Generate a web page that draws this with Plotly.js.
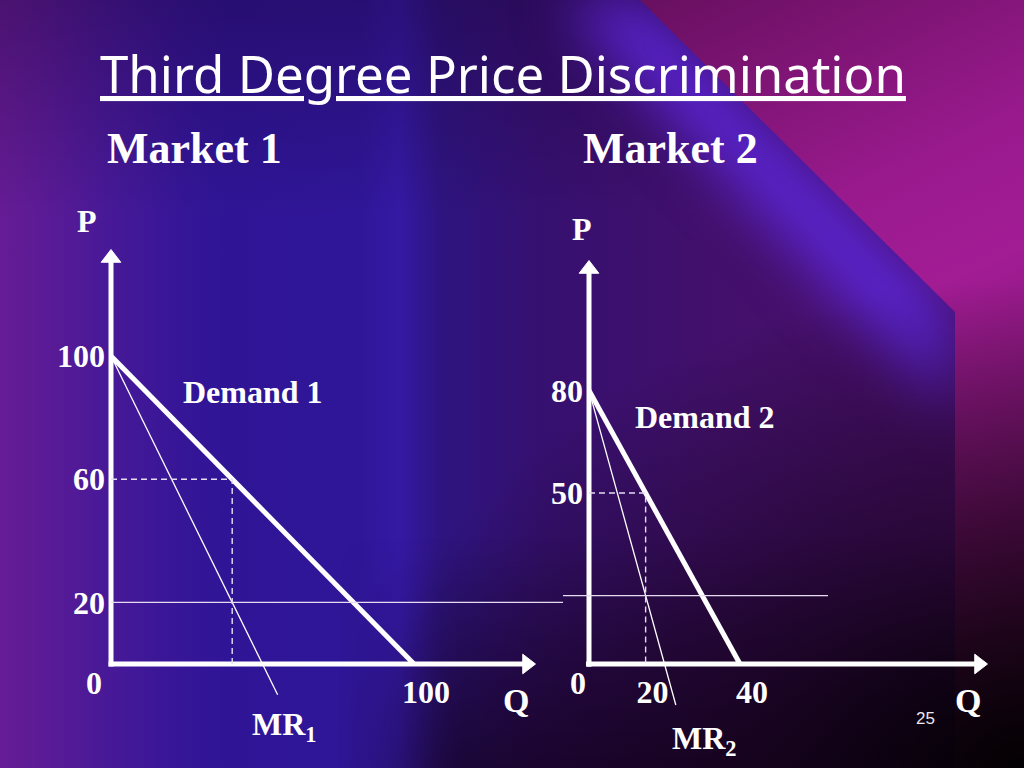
<!DOCTYPE html>
<html>
<head>
<meta charset="utf-8">
<script src="https://cdn.plot.ly/plotly-3.0.1.min.js"></script>
<style>
  html, body { margin: 0; padding: 0; width: 1024px; height: 768px; overflow: hidden; }
  #slide { position: relative; width: 1024px; height: 768px; overflow: hidden;
    background: linear-gradient(to right, #5e1a94 0%, #3f1898 10%, #2f1596 22%, #2f1698 35%, #3419a4 39%, #2e1480 43%, #361070 53%, #43106c 70%, #4c0f66 100%); }
  .layer { position: absolute; left: 0; top: 0; width: 1024px; height: 768px; }
  #glowWrap { filter: blur(28px); }
  #glow { background: #5a24d0; clip-path: polygon(560px 0, 650px 0, 955px 310px, 955px 420px); }
  #magenta { background: linear-gradient(155deg, #3a0636 0%, #6a1062 25%, #9a1a8e 48%, #a21c94 58%, #7a1470 75%, #3a0a30 100%);
    clip-path: polygon(640px 0, 1024px 0, 1024px 768px, 955px 768px, 955px 312px); }
  #top { background: linear-gradient(to bottom, rgba(25,0,45,0.35) 0%, rgba(0,0,0,0) 28%); }
  #bottom { background: linear-gradient(to bottom, rgba(0,0,0,0) 70%, rgba(18,0,22,0.6) 100%);
    -webkit-mask-image: linear-gradient(to right, transparent 33%, black 45%);
    mask-image: linear-gradient(to right, transparent 33%, black 45%); }
  #shade { background: radial-gradient(ellipse at 100% 100%, rgba(0,0,0,0.95) 0%, rgba(10,0,10,0.6) 18%, rgba(0,0,0,0) 45%); }
  #leftglow { background: linear-gradient(to right, rgba(110,30,150,0.45) 0%, rgba(0,0,0,0) 18%); }
  #plot { position: absolute; left: 0; top: 0; }
</style>
</head>
<body>
<div id="slide">
  <div class="layer" id="leftglow"></div>
  <div class="layer" id="top"></div>
  <div class="layer" id="glowWrap"><div class="layer" id="glow"></div></div>
  <div class="layer" id="bottom"></div>
  <div class="layer" id="magenta"></div>
  <div class="layer" id="shade"></div>
  <div id="plot"></div>
</div>
<script>
// Market 1
var demand1Q = [0, 100];
var demand1P = [100, 0];
var mr1Q = [0, 55];
var mr1P = [100, -10];
var opt1Q = [0, 40, 40];
var opt1P = [60, 60, 0];
var m1PriceTicks = [100, 60, 20];
var m1QtyTicks = [100];

// Market 2
var demand2Q = [0, 40];
var demand2P = [80, 0];
var mr2Q = [0, 23];
var mr2P = [80, -12];
var opt2Q = [0, 15, 15];
var opt2P = [50, 50, 0];
var m2PriceTicks = [80, 50];
var m2QtyTicks = [20, 40];

// common marginal cost
var mcPrice = 20;

var W = 1024, H = 768;
function px(x) { return x / W; }
function py(y) { return 1 - y / H; }

var serif = 'Liberation Serif, Times New Roman, serif';
var white = '#ffffff';
var thin = '#e6dcf2';
var nb = '\u00A0';

// scales (px per unit) chosen to sit the curves where the slide draws them
var k1x = 3.03, k1y = 3.08, k2x = 3.775, k2y = 3.42;
var pad = 3; // a little room left of Q = 0 so the thick axis is not clipped

function line(xs, ys, xa, ya, color, width, dash) {
  return { x: xs, y: ys, xaxis: xa, yaxis: ya, mode: 'lines', hoverinfo: 'skip',
    line: { color: color, width: width, dash: dash || 'solid' } };
}
// axis with arrowhead: the head sits a few px inside the tip
function axisTraces(xa, ya, topP, endQ) {
  return [
    line([0, 0], [-0.8, topP], xa, ya, white, 5),
    line([-0.8, endQ], [0, 0], xa, ya, white, 5),
    { x: [0, endQ], y: [topP, 0], xaxis: xa, yaxis: ya, mode: 'markers', cliponaxis: false,
      hoverinfo: 'skip',
      marker: { symbol: ['triangle-up', 'triangle-right'], size: 17, color: white,
        line: { color: white, width: 1 } } }
  ];
}

var traces = []
  .concat(axisTraces('x', 'y', (664 - 258) / k1y, (527 - 111) / k1x))
  .concat(axisTraces('x2', 'y2', (664 - 269) / k2y, (979 - 589) / k2x))
  .concat([
    line(demand1Q, demand1P, 'x', 'y', white, 5),
    line(mr1Q, mr1P, 'x', 'y', white, 1.3),
    line(opt1Q, opt1P, 'x', 'y', thin, 1.4, '6px,4px'),
    line(demand2Q, demand2P, 'x2', 'y2', white, 5),
    line(mr2Q, mr2P, 'x2', 'y2', white, 1.3),
    line(opt2Q, opt2P, 'x2', 'y2', thin, 1.4, '6px,4px')
  ]);

var tickFont = { family: serif, size: 32, color: white, weight: 'bold' };

function xAxis(domain, range, ticks, text, shift) {
  return {
    domain: domain, range: range, anchor: 'free', position: py(664),
    showgrid: false, zeroline: false, showline: false, ticks: '',
    tickvals: ticks, ticktext: text, tickfont: tickFont,
    ticklabelstandoff: 6, ticklabelshift: shift, fixedrange: true
  };
}
function yAxis(xpos, range, ticks) {
  return {
    domain: [py(740), py(240)], range: range, anchor: 'free', position: px(xpos),
    showgrid: false, zeroline: false, showline: false, ticks: '',
    tickvals: ticks, ticktext: ticks.map(String), tickfont: tickFont,
    ticklabelstandoff: 6, fixedrange: true
  };
}

function label(text, x, y, size) {
  return {
    xref: 'paper', yref: 'paper', x: px(x), y: py(y), text: text, showarrow: false,
    xanchor: 'center', yanchor: 'middle',
    font: { family: serif, size: size, color: white, weight: 'bold' }
  };
}

var annotations = [
  {
    xref: 'paper', yref: 'paper', x: px(503), y: py(73), showarrow: false,
    xanchor: 'center', yanchor: 'middle', text: 'Third Degree Price Discrimination',
    font: { family: 'Noto Sans, Open Sans, sans-serif', size: 51, color: white, lineposition: 'under' }
  },
  label('Market 1', 194, 148, 44),
  label('Market 2', 670, 148, 44),
  label('P', 87, 221, 32),
  label('P', 582, 229, 32),
  label('Q', 516, 700, 34),
  label('Q', 968, 700, 34),
  label('0', 94, 683, 32),
  label('0', 578, 683, 32),
  label('Demand 1', 253, 392, 32),
  label('Demand 2', 705, 417, 32),
  label('MR<sub>1</sub>', 284, 726, 32),
  label('MR<sub>2</sub>', 704, 740, 32),
  {
    xref: 'paper', yref: 'paper', x: px(925), y: py(718), showarrow: false,
    xanchor: 'center', yanchor: 'middle', text: '25',
    font: { family: 'Liberation Sans, Arial, sans-serif', size: 17, color: '#ece6f2' }
  }
];

// marginal cost line runs across both markets
var shapes = [
  { type: 'line', xref: 'paper', yref: 'y', x0: px(111), x1: px(563), y0: mcPrice, y1: mcPrice,
    line: { color: thin, width: 1.3 } },
  { type: 'line', xref: 'paper', yref: 'y2', x0: px(563), x1: px(828), y0: mcPrice, y1: mcPrice,
    line: { color: thin, width: 1.3 } }
];

var layout = {
  width: W, height: H,
  margin: { l: 0, r: 0, t: 0, b: 0 },
  paper_bgcolor: 'rgba(0,0,0,0)', plot_bgcolor: 'rgba(0,0,0,0)',
  showlegend: false,
  xaxis: xAxis([px(111 - pad * k1x), px(545)], [-pad, 434 / k1x], m1QtyTicks, m1QtyTicks.map(String), 12),
  yaxis: yAxis(111, [-(740 - 664) / k1y, (664 - 240) / k1y], m1PriceTicks),
  xaxis2: xAxis([px(589 - pad * k2x), px(1000)], [-pad, 411 / k2x], m2QtyTicks,
    [m2QtyTicks[0] + nb + nb + nb, nb + nb + nb + m2QtyTicks[1]], 0),
  yaxis2: yAxis(589, [-(740 - 664) / k2y, (664 - 240) / k2y], m2PriceTicks),
  annotations: annotations,
  shapes: shapes
};

Plotly.newPlot('plot', traces, layout, { displayModeBar: false, staticPlot: true });
</script>
</body>
</html>
